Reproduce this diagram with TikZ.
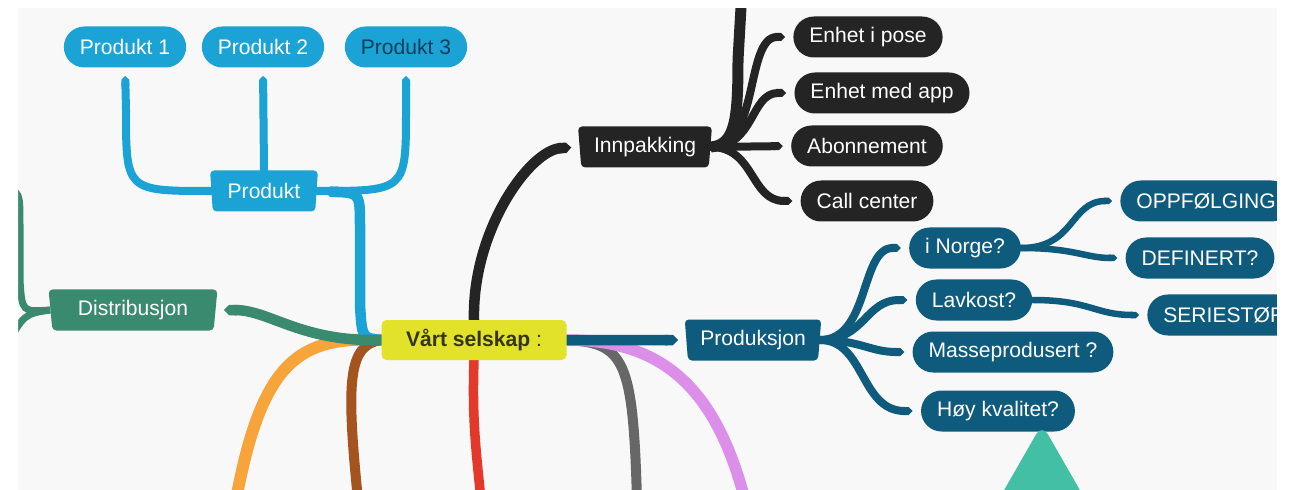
\documentclass[tikz,border=0pt]{standalone}
\usepackage{fontspec}
\setmainfont{Liberation Sans}
\usetikzlibrary{arrows.meta,shapes.geometric,backgrounds}
\definecolor{paper}{HTML}{F8F8F8}
\definecolor{prodblue}{HTML}{1CA3D6}
\definecolor{prodtext}{HTML}{123F5C}
\definecolor{distgreen}{HTML}{3A8A70}
\definecolor{hubyellow}{HTML}{E3E22B}
\definecolor{hubtext}{HTML}{35351A}
\definecolor{packblack}{HTML}{242424}
\definecolor{prodnavy}{HTML}{0F5B7D}
\definecolor{branchorange}{HTML}{F7A43B}
\definecolor{branchbrown}{HTML}{A3541F}
\definecolor{branchred}{HTML}{E2392B}
\definecolor{branchgray}{HTML}{676767}
\definecolor{branchpink}{HTML}{DC8FE8}
\definecolor{tealtri}{HTML}{43BFA5}
\tikzset{
  label font/.style={font=\fontsize{12}{14}\selectfont},
  leaf/.style={rectangle, rounded corners=4.1mm, minimum height=8.2mm,
               inner xsep=3.2mm, inner ysep=0pt, text=white, label font},
  topic/.style={trapezium, trapezium angle=81, shape border rotate=180,
                trapezium stretches=true, rounded corners=0.8mm,
                minimum height=8.2mm, minimum width=#1, inner xsep=2mm,
                inner ysep=0pt, text=white, label font},
  hub/.style={rectangle, rounded corners=1mm, fill=hubyellow, text=hubtext,
              minimum width=37mm, minimum height=8mm, label font},
  branch/.style={draw=#1, line cap=round, -{Triangle Cap}, shorten >=1.6mm},
  mainbranch/.style={branch=#1, line width=2.1mm},
  subbranch/.style={branch=#1, line width=1.6mm},
  leafbranch/.style={branch=#1, line width=1.3mm},
}
\begin{document}
\begin{tikzpicture}[x=0.2mm, y=-0.2mm]
  \useasboundingbox (0,0) rectangle (1297,490);
  \node[hub] (selskap) at (474,340) {\textbf{Vårt selskap} :};
  \node[topic=21.6mm, fill=prodblue] (produkt) at (264,191) {Produkt};
  \node[leaf, fill=prodblue] (p1) at (125,47) {Produkt 1};
  \node[leaf, fill=prodblue] (p2) at (263,47) {Produkt 2};
  \node[leaf, fill=prodblue, text=prodtext] (p3) at (406,47) {Produkt 3};
  \node[topic=34mm, fill=distgreen] (distr) at (133,310) {Distribusjon};
  \node[topic=26.8mm, fill=packblack] (innp) at (645,147) {Innpakking};
  \node[leaf, fill=packblack] (pose) at (868,37) {Enhet i pose};
  \node[leaf, fill=packblack] (app) at (882,93) {Enhet med app};
  \node[leaf, fill=packblack] (abo) at (867,146) {Abonnement};
  \node[leaf, fill=packblack] (call) at (867,201) {Call center};
  \node[topic=27.4mm, fill=prodnavy] (prod) at (753,340) {Produksjon};
  \node[leaf, fill=prodnavy] (norge) at (965,248) {i Norge?};
  \node[leaf, fill=prodnavy] (lavkost) at (974,300) {Lavkost?};
  \node[leaf, fill=prodnavy] (masse) at (1013,352) {Masseprodusert ?};
  \node[leaf, fill=prodnavy] (hoy) at (998,411) {Høy kvalitet?};
  \node[leaf, fill=prodnavy, anchor=west] (oppf) at (1120,201) {OPPFØLGING};
  \node[leaf, fill=prodnavy] (defin) at (1200,258) {DEFINERT?};
  \node[leaf, fill=prodnavy, anchor=west] (serie) at (1147,315) {SERIESTØR};

  \coordinate (distup) at (4,188);
  \coordinate (distdown) at (4,350);
  \coordinate (packup) at (742,-10);
  \coordinate (orangeend) at (236,500);
  \coordinate (brownend) at (358,500);
  \coordinate (redend) at (481,500);
  \coordinate (grayend) at (637,500);
  \coordinate (pinkend) at (745,500);

  \begin{scope}[on background layer]
    \fill[paper] (18,8) rectangle (1277,490);
    % bottom branches
    \draw[branchorange, line width=2.4mm, line cap=round] (selskap.west) .. controls (300,336) and (262,360) .. (orangeend);
    \draw[branchbrown, line width=2mm, line cap=round] (selskap.west) .. controls (348,345) and (346,380) .. (brownend);
    \draw[branchred, line width=1.9mm, line cap=round] (selskap.south) .. controls (472,420) and (476,450) .. (redend);
    \draw[branchgray, line width=2mm, line cap=round] (selskap.east) .. controls (625,343) and (633,360) .. (grayend);
    \draw[branchpink, line width=2.3mm, line cap=round] (selskap.east) .. controls (660,340) and (715,385) .. (pinkend);
    % Produkt
    \draw[mainbranch=prodblue] (selskap.west) .. controls (362,338) .. (360,305) -- (360,228) .. controls (360,193) .. (produkt.east);
    \draw[subbranch=prodblue] (produkt.west) .. controls (126,191) .. (126,110) -- (p1.south);
    \draw[subbranch=prodblue] (produkt.north) -- (p2.south);
    \draw[subbranch=prodblue] (produkt.east) .. controls (406,191) .. (406,110) -- (p3.south);
    % Distribusjon
    \draw[mainbranch=distgreen] (selskap.west) .. controls (300,342) and (270,310) .. (distr.east);
    \draw[distgreen, line width=1.4mm] (distr.west) .. controls (22,312) .. (20,280) -- (20,225) .. controls (20,192) .. (distup);
    \draw[distgreen, line width=1.4mm] (distr.west) .. controls (24,314) .. (distdown);
    % Innpakking
    \draw[mainbranch=packblack] (selskap.north) .. controls (472,230) and (530,150) .. (innp.west);
    \draw[packblack, line width=2.2mm] (innp.east) .. controls (735,145) and (738,120) .. (738,60) -- (packup);
    \draw[subbranch=packblack] (innp.east) .. controls (760,147) and (745,37) .. (pose.west);
    \draw[subbranch=packblack] (innp.east) .. controls (755,147) and (750,93) .. (app.west);
    \draw[subbranch=packblack] (innp.east) -- (abo.west);
    \draw[subbranch=packblack] (innp.east) .. controls (755,147) and (750,201) .. (call.west);
    % Produksjon
    \draw[mainbranch=prodnavy] (selskap.east) -- (prod.west);
    \draw[subbranch=prodnavy] (prod.east) .. controls (870,340) and (860,248) .. (norge.west);
    \draw[subbranch=prodnavy] (prod.east) .. controls (865,340) and (865,300) .. (lavkost.west);
    \draw[subbranch=prodnavy] (prod.east) .. controls (860,340) and (870,352) .. (masse.west);
    \draw[subbranch=prodnavy] (prod.east) .. controls (865,340) and (860,411) .. (hoy.west);
    \draw[leafbranch=prodnavy] (norge.east) .. controls (1075,248) and (1070,201) .. (oppf.west);
    \draw[leafbranch=prodnavy] (norge.east) .. controls (1075,248) and (1085,258) .. (defin.west);
    \draw[leafbranch=prodnavy] (lavkost.east) .. controls (1090,300) and (1095,315) .. (serie.west);
  \end{scope}

  \fill[tealtri, rounded corners=2.4mm] (987,520) -- (1042,424) -- (1097,520) -- cycle;
  \fill[white] (0,0) rectangle (18,490) (1277,0) rectangle (1297,490) (0,0) rectangle (1297,8);
\end{tikzpicture}
\end{document}
